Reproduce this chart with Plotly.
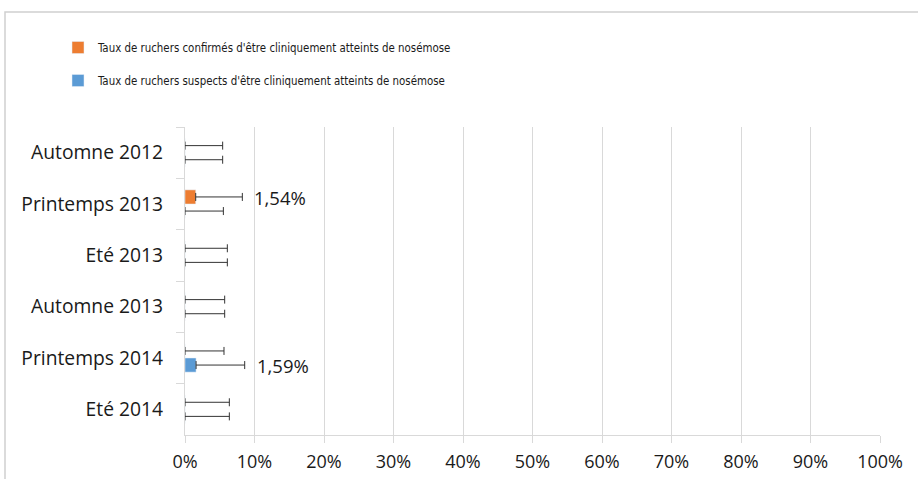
import plotly.graph_objects as go

categories = ["Automne 2012", "Printemps 2013", "Eté 2013", "Automne 2013", "Printemps 2014", "Eté 2014"]
confirmes = [0, 1.54, 0, 0, 0, 0]
confirmes_err = [5.42, 6.71, 6.09, 5.71, 5.61, 6.38]
suspects = [0, 0, 0, 0, 1.59, 0]
suspects_err = [5.42, 5.52, 6.09, 5.71, 7.00, 6.38]
name_conf = "Taux de ruchers confirmés d'être cliniquement atteints de nosémose"
name_susp = "Taux de ruchers suspects d'être cliniquement atteints de nosémose"
x_ticks = list(range(0, 101, 10))

ORANGE = "#ED7D31"
BLUE = "#5B9BD5"
ERR = "#333333"
GRID = "#d9d9d9"
FONT = "Open Sans, sans-serif"

fig = go.Figure()
fig.add_trace(go.Bar(
    y=categories, x=confirmes, orientation="h", name=name_conf,
    marker=dict(color=ORANGE), legendgroup="a",
    error_x=dict(type="data", array=confirmes_err, arrayminus=[0]*len(categories),
                 symmetric=False, color=ERR, thickness=1, width=4),
))
fig.add_trace(go.Bar(
    y=categories, x=suspects, orientation="h", name=name_susp,
    marker=dict(color=BLUE), legendgroup="b",
    error_x=dict(type="data", array=suspects_err, arrayminus=[0]*len(categories),
                 symmetric=False, color=ERR, thickness=1, width=4),
))

def fmt(v):
    return f"{v:.2f}%".replace(".", ",")

for cat, v, e in zip(categories, confirmes, confirmes_err):
    if v > 0:
        fig.add_annotation(x=v + e, y=cat, text=fmt(v), showarrow=False,
                           xanchor="left", xshift=10, yshift=7,
                           font=dict(family=FONT, size=18.5, color="#1a1a1a"))
for cat, v, e in zip(categories, suspects, suspects_err):
    if v > 0:
        fig.add_annotation(x=v + e, y=cat, text=fmt(v), showarrow=False,
                           xanchor="left", xshift=10, yshift=-7,
                           font=dict(family=FONT, size=18.5, color="#1a1a1a"))

L, R, T, B = 185, 38, 127, 44
W, H = 918, 479
pw, ph = W - L - R, H - T - B

def px_x(p):
    return (p - L) / pw

def px_y(p):
    return 1 - (p - T) / ph

fig.add_shape(type="rect", xref="paper", yref="paper",
              x0=px_x(5), x1=px_x(930), y0=px_y(12), y1=px_y(490),
              line=dict(color="#d0d0d0", width=1.5), fillcolor="rgba(0,0,0,0)", layer="below")

fig.update_layout(
    width=W, height=H,
    margin=dict(l=L, r=R, t=T, b=B, autoexpand=False),
    paper_bgcolor="white", plot_bgcolor="white",
    barmode="group", bargap=0.45, bargroupgap=0,
    font=dict(family=FONT, size=18.5, color="#1a1a1a"),
    legend=dict(x=px_x(58), y=px_y(33), xanchor="left", yanchor="top",
                orientation="v", traceorder="grouped", tracegroupgap=14,
                font=dict(family="DejaVu Sans Condensed, Open Sans", size=11.4, color="#1a1a1a"),
                bgcolor="rgba(0,0,0,0)"),
    showlegend=True,
)
fig.update_xaxes(range=[0, 100], tickvals=x_ticks, ticktext=[f"{t}%" for t in x_ticks],
                 showgrid=True, gridcolor=GRID, gridwidth=1, zeroline=False,
                 showline=True, linecolor=GRID, linewidth=1,
                 ticks="outside", ticklen=7, tickcolor=GRID, ticklabelstandoff=3,
                 tickfont=dict(family=FONT, size=18, color="#1a1a1a"))
fig.update_yaxes(type="category", categoryorder="array", categoryarray=categories,
                 autorange="reversed", tickson="boundaries",
                 showgrid=False, showline=True, linecolor=GRID, linewidth=1,
                 ticks="outside", ticklen=8, tickcolor=GRID, ticklabelstandoff=17,
                 tickfont=dict(family=FONT, size=19.3, color="#1a1a1a"))

fig.write_html("out.html", config={"displayModeBar": False},
               post_script="document.body.style.margin='0';document.body.style.overflow='hidden';")
